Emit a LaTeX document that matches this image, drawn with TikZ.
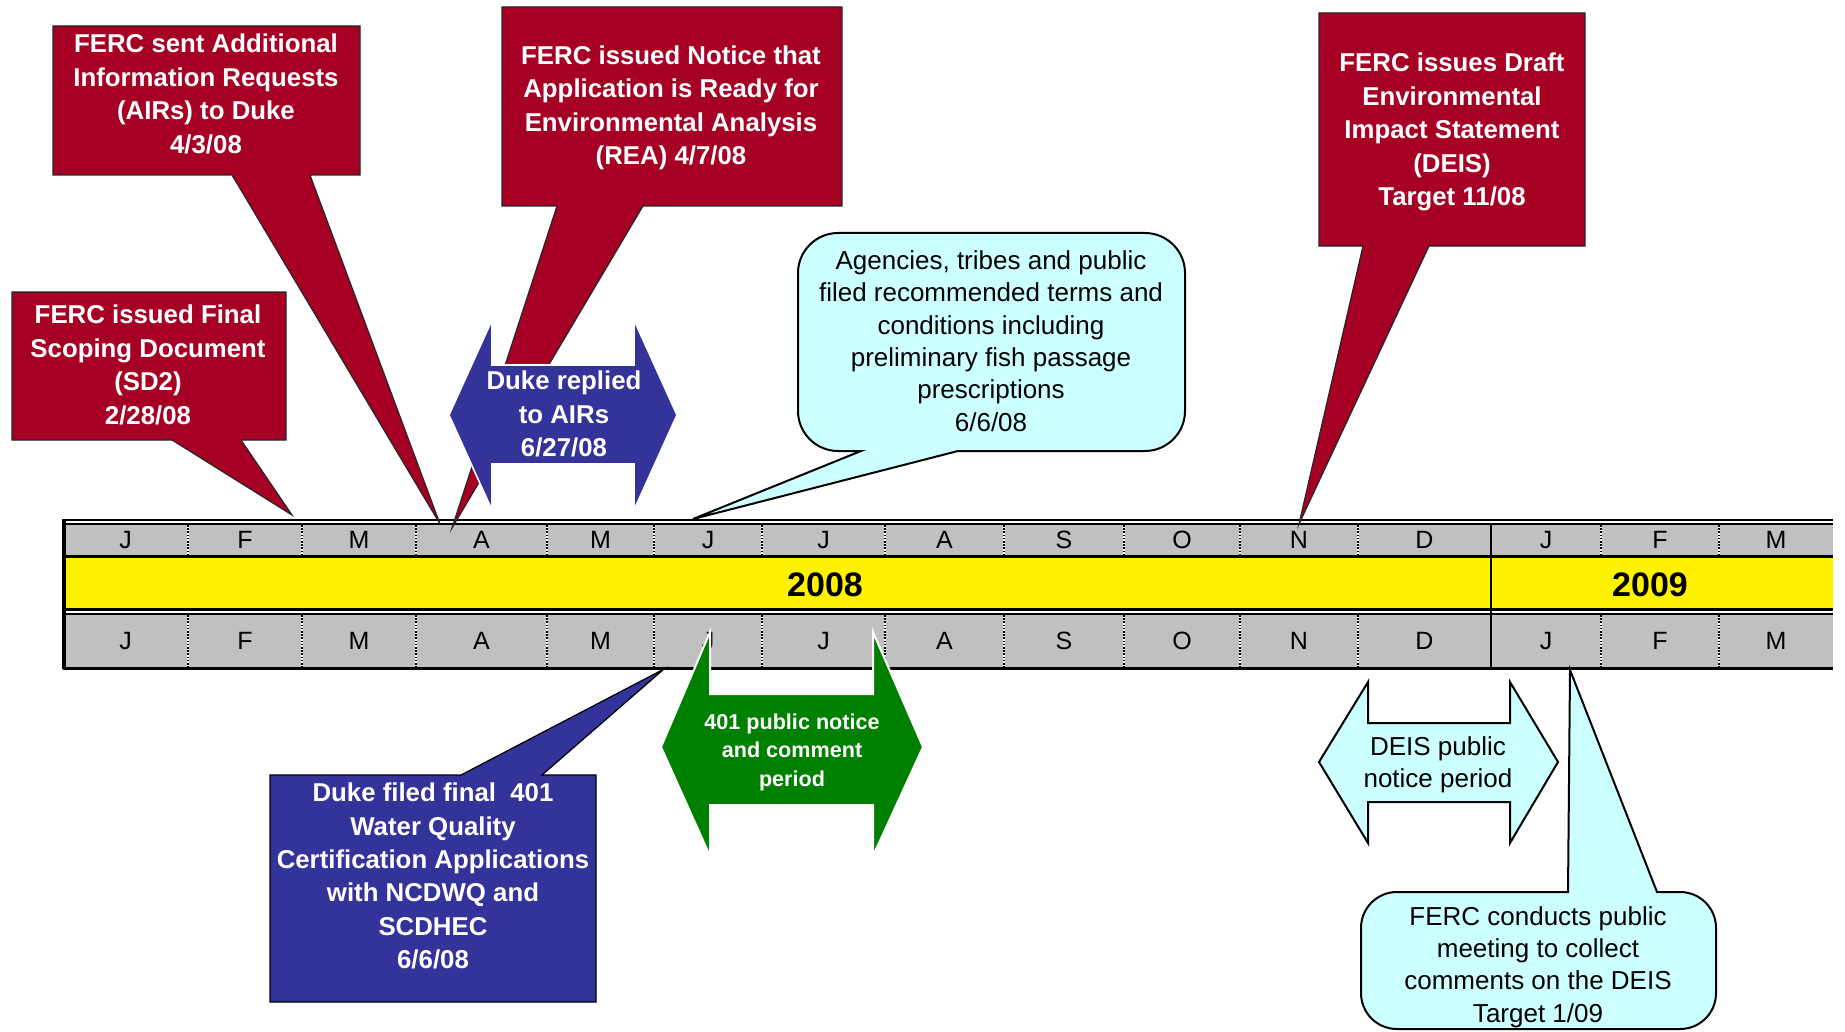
\documentclass[tikz,border=0pt]{standalone}
\usepackage{fontspec}
\setmainfont{Liberation Sans}
\usepackage{tikz}
\usetikzlibrary{positioning}

\definecolor{fercred}{RGB}{166,0,36}
\definecolor{dukeblue}{RGB}{51,51,153}
\definecolor{wqgreen}{RGB}{0,128,0}
\definecolor{paleaqua}{RGB}{204,255,255}
\definecolor{monthgray}{RGB}{192,192,192}

\begin{document}
\begin{tikzpicture}[
		x=0.5pt,y=-0.5pt,
		redcall/.style={fill=fercred,draw=black!85,line width=0.6pt},
		bluecall/.style={fill=dukeblue,draw=black,line width=0.6pt},
		aquacall/.style={fill=paleaqua,draw=black,line width=1pt},
		boldtext/.style={text=white,align=center,inner sep=0pt,font=\fontsize{12.9}{16.7}\selectfont\bfseries},
		smalltext/.style={text=white,align=center,inner sep=0pt,font=\fontsize{10.8}{14.25}\selectfont\bfseries},
		plaintext/.style={text=black,align=center,inner sep=0pt,font=\fontsize{13}{16.2}\selectfont},
		month/.style={inner sep=0pt,font=\fontsize{12.5}{15}\selectfont},
		year/.style={inner sep=0pt,font=\fontsize{17}{20}\selectfont\bfseries},
		dotsep/.style={black,line width=1pt,dash pattern=on 0.8pt off 0.8pt}
	]
	\useasboundingbox (0,0) rectangle (1845,1032);
	\fill[white] (0,0) rectangle (1845,1032);

	\fill[monthgray] (63,523) rectangle (1833,556);
	\fill[yellow] (63,556) rectangle (1833,610);
	\fill[monthgray] (63,614) rectangle (1833,668);
	\foreach \x in {188,302,416,547,654,762,885,1004,1124,1240,1358,1601,1719} {
		\draw[white,line width=1pt] (\x,525) -- (\x,555) (\x,615) -- (\x,667);
		\draw[dotsep] (\x,525) -- (\x,555) (\x,615) -- (\x,667);
	}
	\draw[line width=1pt] (63,520) -- (1833,520);
	\draw[line width=1pt] (63,524) -- (1833,524);
	\draw[line width=1.5pt] (63,556.5) -- (1833,556.5);
	\draw[line width=1.5pt] (63,609.5) -- (1833,609.5);
	\draw[line width=1pt] (63,614) -- (1833,614);
	\draw[line width=1.5pt] (63,668) -- (1833,668);
	\draw[line width=2pt] (64,519) -- (64,669);
	\draw[line width=1pt] (1491,524) -- (1491,668);
	\foreach \m/\a/\b [count=\i] in {J/63/188,F/188/302,M/302/416,A/416/547,M/547/654,J/654/762,J/762/885,A/885/1004,S/1004/1124,O/1124/1240,N/1240/1358,D/1358/1491,J/1491/1601,F/1601/1719,M/1719/1833} {
		\node[month] (mtop\i) at ({(\a+\b)/2},540) {\m};
		\node[month] (mbot\i) at ({(\a+\b)/2},641) {\m};
	}
	\node[year] (y2008) at (825,585) {2008};
	\node[year] (y2009) at (1650,585) {2009};

	\coordinate (scopingtip) at (292,515);
	\coordinate (airstip) at (440,524);
	\coordinate (reatip) at (452,528);
	\coordinate (drafttip) at (1299,524);
	\coordinate (agenciestip) at (693,519);
	\coordinate (filedtip) at (664,669);
	\coordinate (meetingtip) at (1570,670);

	\draw[redcall] (12,292) -- (286,292) -- (286,440) -- (241,440) -- (scopingtip) -- (172,440) -- (12,440) -- cycle;
	\node[boldtext] (scoping) at (148,365) {FERC issued Final\\Scoping Document\\(SD2)\\2/28/08};

	\draw[redcall] (53,26) -- (360,26) -- (360,175) -- (310,175) -- (airstip) -- (232,175) -- (53,175) -- cycle;
	\node[boldtext] (airs) at (206,94) {FERC sent Additional\\Information Requests\\(AIRs) to Duke\\4/3/08};

	\draw[redcall] (502,7) -- (842,7) -- (842,206) -- (643,206) -- (reatip) -- (557,206) -- (502,206) -- cycle;
	\node[boldtext] (rea) at (671,108) {FERC issued Notice that\\Application is Ready for\\Environmental Analysis\\(REA) 4/7/08};

	\draw[redcall] (1319,13) -- (1585,13) -- (1585,246) -- (1429,246) -- (drafttip) -- (1363,246) -- (1319,246) -- cycle;
	\node[boldtext] (draft) at (1452,132) {FERC issues Draft\\Environmental\\Impact Statement\\(DEIS)\\Target 11/08};

	\draw[fill=dukeblue,draw=white,line width=0.8pt] (449,415) -- (492,320) -- (492,365) -- (634,365) -- (634,320) -- (677,415)
		-- (634,510) -- (634,464) -- (492,464) -- (492,510) -- cycle;
	\node[boldtext] (replied) at (564,414) {Duke replied\\to AIRs\\6/27/08};

	\draw[aquacall] (861,451) -- (agenciestip) -- (958,451) -- (1145,451)
		.. controls (1167,451) and (1185,433) .. (1185,411) -- (1185,273)
		.. controls (1185,251) and (1167,233) .. (1145,233) -- (838,233)
		.. controls (816,233) and (798,251) .. (798,273) -- (798,411)
		.. controls (798,433) and (816,451) .. (838,451) -- cycle;
	\node[plaintext] (agencies) at (991,341) {Agencies, tribes and public\\filed recommended terms and\\conditions including\\preliminary fish passage\\prescriptions\\6/6/08};

	\draw[bluecall] (270,775) -- (461,775) -- (filedtip) -- (542,775) -- (596,775) -- (596,1002) -- (270,1002) -- cycle;
	\node[boldtext] (filed) at (433,876) {Duke filed final~~401\\Water Quality\\Certification Applications\\with NCDWQ and\\SCDHEC\\6/6/08};

	\draw[fill=wqgreen,draw=white,line width=1pt] (661,747) -- (710,632) -- (710,694) -- (873,694) -- (873,632) -- (923,747)
		-- (873,856) -- (873,805) -- (710,805) -- (710,856) -- cycle;
	\node[smalltext] (wqc) at (792,752) {401 public notice\\and comment\\period};

	\draw[aquacall] (1319,762) -- (1368,682) -- (1368,723) -- (1510,723) -- (1510,682) -- (1558,762)
		-- (1510,843) -- (1510,802) -- (1368,802) -- (1368,843) -- cycle;
	\node[plaintext] (deisnotice) at (1438,765) {DEIS public\\notice period};

	\draw[aquacall] (1568,892) -- (meetingtip) -- (1657,892) -- (1680,892)
		.. controls (1700,892) and (1716,908) .. (1716,928) -- (1716,993)
		.. controls (1716,1013) and (1700,1029) .. (1680,1029) -- (1397,1029)
		.. controls (1377,1029) and (1361,1013) .. (1361,993) -- (1361,928)
		.. controls (1361,908) and (1377,892) .. (1397,892) -- cycle;
	\node[plaintext] (meeting) at (1538,967) {FERC conducts public\\meeting to collect\\comments on the DEIS\\Target 1/09};
\end{tikzpicture}
\end{document}
